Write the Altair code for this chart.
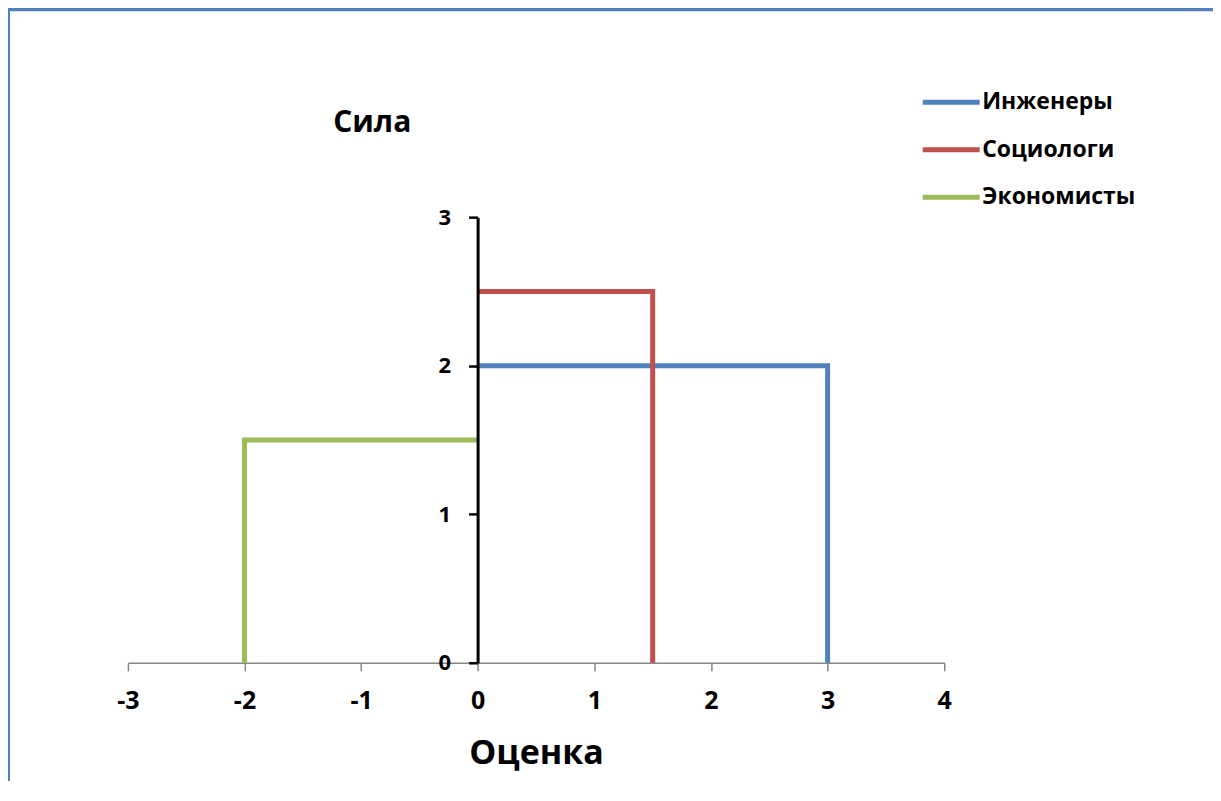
import altair as alt
import pandas as pd

# ---- data ----
series = ["Инженеры", "Социологи", "Экономисты"]
colors = ["#4F81BD", "#C0504D", "#9BBB59"]

eng_x = [0, 3, 3]
eng_y = [2, 2, 0]
soc_x = [0, 1.5, 1.5]
soc_y = [2.5, 2.5, 0]
eco_x = [0, -2, -2]
eco_y = [1.5, 1.5, 0]

x_ticks = [-3, -2, -1, 0, 1, 2, 3, 4]
y_ticks = [0, 1, 2, 3]

x_title = "Оценка"
y_title = "Сила"

rows = []
for name, xs, ys in zip(series, [eng_x, soc_x, eco_x], [eng_y, soc_y, eco_y]):
    for i, (xv, yv) in enumerate(zip(xs, ys)):
        rows.append({"series": name, "x": xv, "y": yv, "ord": i})
df = pd.DataFrame(rows)

# ---- layout (pixels inside the view) ----
W, H = 1220, 800
X_RANGE = [120, 937]
Y_RANGE = [654, 208]
X0_PX = 470  # pixel of x = 0
FONT = "Open Sans"

x_axis = alt.Axis(
    values=x_ticks,
    labelExpr="'' + datum.value",
    grid=False,
    offset=Y_RANGE[0] - H,
    domainColor="#868686",
    domainWidth=1.5,
    tickColor="#868686",
    tickWidth=1.5,
    tickSize=8,
    labelFont=FONT,
    labelFontWeight="bold",
    labelFontSize=25,
    labelColor="black",
    labelPadding=18,
    labelFlush=False,
    labelOverlap=False,
    title=x_title,
    titleFont=FONT,
    titleFontWeight="bold",
    titleFontSize=34,
    titleColor="black",
    titleBaseline="alphabetic",
    titleX=(X_RANGE[0] + X_RANGE[1]) / 2,
    titleY=101,
    titleAlign="center",
)

y_axis = alt.Axis(
    values=y_ticks,
    labelExpr="'' + datum.value",
    grid=False,
    offset=-X0_PX,
    domainColor="black",
    domainWidth=3,
    tickColor="black",
    tickWidth=2.5,
    tickSize=9,
    labelFont=FONT,
    labelFontWeight="bold",
    labelFontSize=22,
    labelColor="black",
    labelPadding=18,
    labelFlush=False,
    labelOverlap=False,
    title=y_title,
    titleFont=FONT,
    titleFontWeight="bold",
    titleFontSize=30,
    titleColor="black",
    titleAngle=0,
    titleBaseline="alphabetic",
    titleAlign="center",
    titleX=-106,
    titleY=122,
    zindex=1,
)

legend = alt.Legend(
    title=None,
    orient="none",
    legendX=913,
    legendY=62,
    padding=0,
    symbolType="stroke",
    symbolSize=3249,
    symbolStrokeWidth=5,
    labelFont=FONT,
    labelFontWeight="bold",
    labelFontSize=23,
    labelColor="black",
    labelOffset=0,
    rowPadding=4.5,
)

chart = (
    alt.Chart(df)
    .mark_line(strokeWidth=5, strokeJoin="miter", strokeCap="butt", clip=False)
    .encode(
        x=alt.X("x:Q", scale=alt.Scale(domain=[-3, 4], range=X_RANGE, nice=False, zero=False), axis=x_axis),
        y=alt.Y("y:Q", scale=alt.Scale(domain=[0, 3], range=Y_RANGE, nice=False, zero=False), axis=y_axis),
        color=alt.Color("series:N", scale=alt.Scale(domain=series, range=colors), legend=legend),
        order=alt.Order("ord:Q"),
        detail="series:N",
    )
    .properties(
        width=W,
        height=H,
        autosize=alt.AutoSizeParams(type="none"),
        padding={"left": 0, "top": 1, "right": -14, "bottom": -28},
    )
    .configure(
        background="white",
        view=alt.ViewConfig(stroke="#4F81BD", strokeWidth=4),
    )
)

chart.save("out.html", embed_options={"renderer": "svg", "actions": False})
